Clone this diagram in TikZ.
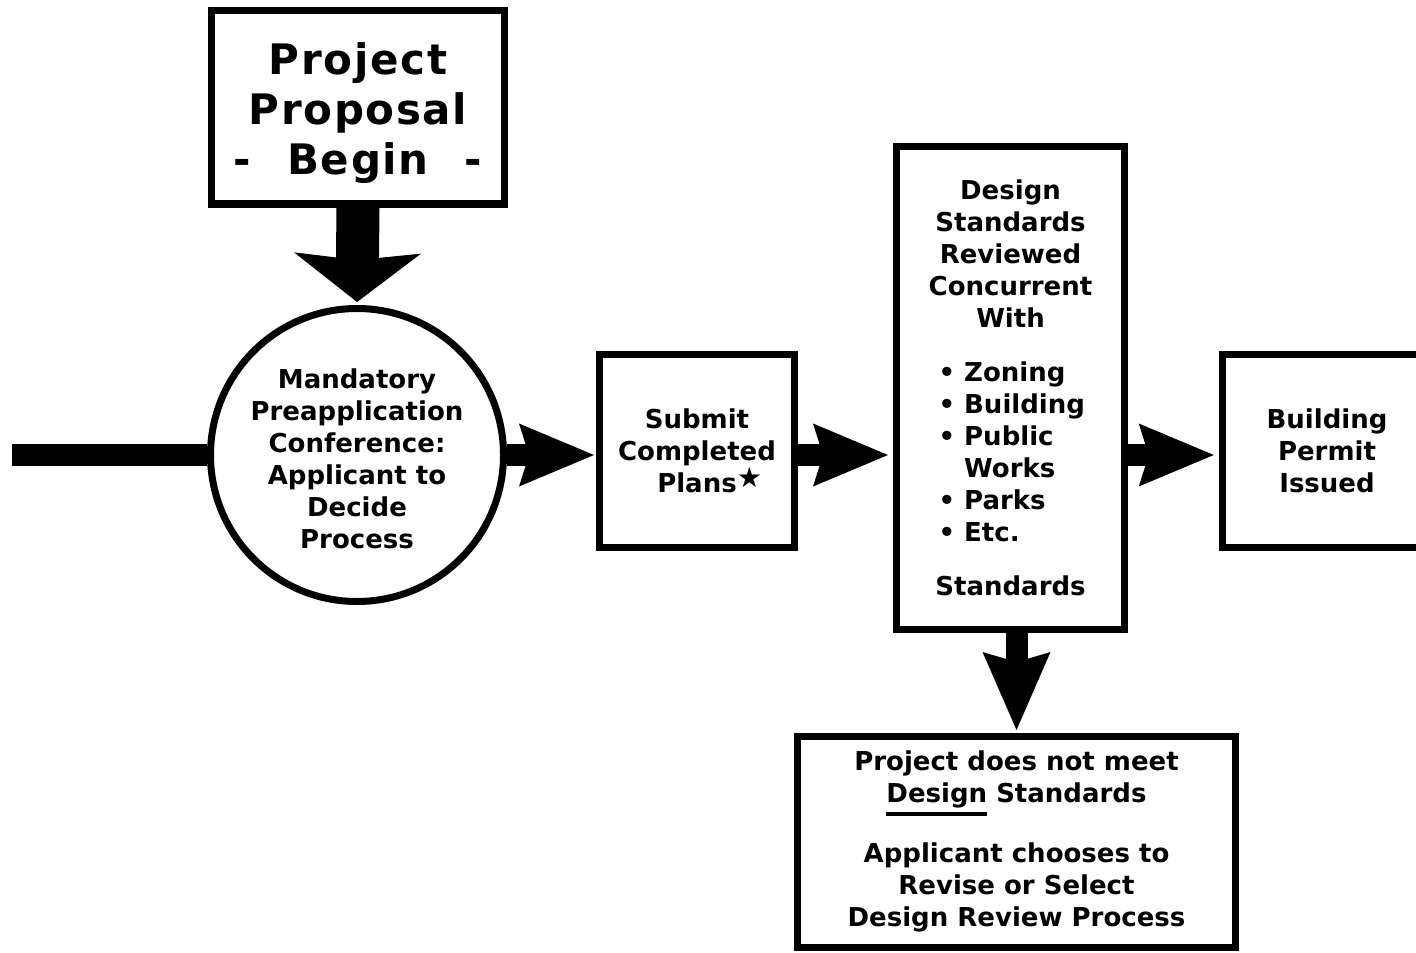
\documentclass[tikz,border=0pt]{standalone}
\usepackage{fontspec}
\setmainfont{DejaVu Sans}
\newfontfamily\titlefont{DejaVu Sans}[LetterSpace=4]
\newfontfamily\starfont{DejaVu Sans}
\usetikzlibrary{arrows.meta}
\newlength\rulelen
\newcommand{\lowrule}[1]{\settowidth{\rulelen}{#1}\rlap{\rule[-6.5pt]{\rulelen}{2pt}}#1}
\newcommand{\listline}[1]{\makebox[72pt][l]{#1}}
\tikzset{
  stepbox/.style={draw, line width=3.5pt, inner sep=0pt, align=center,
    font=\fontsize{13}{16}\selectfont\bfseries},
  roundstep/.style={stepbox, circle},
  widearrow/.style={line width=11pt, shorten >=1pt,
    -{Stealth[length=37.5pt, width=31.5pt, inset=5pt, line width=0pt]}},
  bigdown/.style={line width=21.5pt, shorten >=1.5pt,
    -{Stealth[length=24.5pt, width=63.5pt, inset=3.5pt, line width=0pt]}},
  smalldown/.style={line width=11pt, shorten >=1.25pt,
    -{Stealth[length=39pt, width=34pt, inset=5pt, line width=0pt]}},
}
\begin{document}
\begin{tikzpicture}[x=0.5pt, y=-0.5pt]
  \clip (0,0) rectangle (1416,952);
  \node[stepbox, minimum width=146.75pt, minimum height=96.5pt,
    font=\fontsize{21}{25}\selectfont\titlefont\bfseries] (proposal) at (358,107.5)
    {\rule{0pt}{22pt}Project\\Proposal\\-\hspace{18pt}Begin\hspace{18pt}-};
  \node[roundstep, minimum size=146.5pt] (conf) at (357,455)
    {\rule{0pt}{14pt}Mandatory\\Preapplication\\Conference:\\Applicant to\\Decide\\Process};
  \node[stepbox, minimum width=97.5pt, minimum height=96.5pt] (submit) at (697,451)
    {Submit\\Completed\\Plans\rlap{\starfont\mdseries\fontsize{14}{14}\selectfont\raisebox{2.5pt}{★}}};
  \node[stepbox, minimum width=114pt, minimum height=241.5pt] (review) at (1010.5,388)
    {Design\\Standards\\Reviewed\\Concurrent\\With\\[11pt]
     \listline{•\ Zoning}\\\listline{•\ Building}\\\listline{•\ Public}\\
     \listline{\phantom{•\ }Works}\\\listline{•\ Parks}\\\listline{•\ Etc.}\\[11pt]
     Standards};
  \node[stepbox, minimum width=104.75pt, minimum height=96.5pt] (permit) at (1327,451)
    {Building\\Permit\\Issued};
  \node[stepbox, minimum width=219pt, minimum height=105.5pt] (outcome) at (1016.5,841.5)
    {Project does not meet\\\lowrule{Design} Standards\\[12.5pt]
     Applicant chooses to\\Revise or Select\\Design Review Process};
  \coordinate (entry) at (12,455);
  \draw[line width=11pt] (entry) -- (conf.west);
  \draw[bigdown] (proposal.south) -- (conf.north);
  \draw[widearrow] (conf.east) -- (conf.east -| submit.west);
  \draw[widearrow, shorten >=2.5pt] (conf.east -| submit.east) -- (conf.east -| review.west);
  \draw[widearrow, shorten >=2.5pt] (review.east |- conf.east) -- (conf.east -| permit.west);
  \draw[smalldown] (outcome.north |- review.south) -- (outcome.north);
\end{tikzpicture}
\end{document}
